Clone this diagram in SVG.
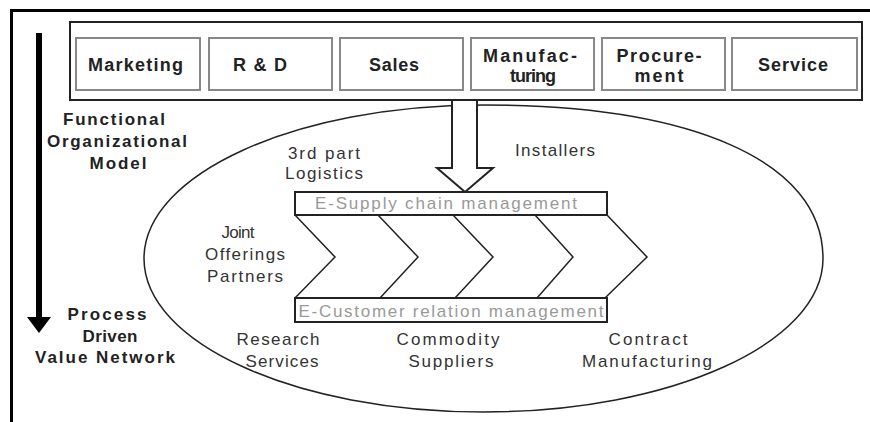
<svg xmlns="http://www.w3.org/2000/svg" width="870" height="422" viewBox="0 0 870 422">
<style>
text{font-family:"Liberation Sans",Arial,sans-serif;text-anchor:middle;fill:#222;}
.b{font-weight:bold;font-size:17px;}
.bx{font-weight:bold;font-size:18px;}
.r{font-size:17px;fill:#333;}
.g{font-size:17px;fill:#999;}
.fbox{fill:#fff;stroke:#888;stroke-width:2;}
.bar{fill:#fff;stroke:#222;stroke-width:2;}
.ln{fill:none;stroke:#222;stroke-width:1.5;}
</style>
<rect width="870" height="422" fill="#fff"/>
<g id="frame">
<line x1="10" y1="10.5" x2="870" y2="10.5" stroke="#000" stroke-width="3"/>
<line x1="11.5" y1="9" x2="11.5" y2="422" stroke="#000" stroke-width="3"/>
</g>
<g id="functional-org">
<rect x="70" y="22" width="792" height="78" fill="#fff" stroke="#222" stroke-width="2"/>
<g id="marketing"><rect class="fbox" x="76" y="38" width="124" height="52"/><text class="bx" x="135.5" y="71" textLength="95" lengthAdjust="spacing">Marketing</text></g>
<g id="rnd"><rect class="fbox" x="209" y="38" width="123" height="52"/><text class="bx" x="260" y="71" textLength="54" lengthAdjust="spacing">R &amp; D</text></g>
<g id="sales"><rect class="fbox" x="340" y="38" width="123" height="52"/><text class="bx" x="394" y="71" textLength="50" lengthAdjust="spacing">Sales</text></g>
<g id="manufacturing"><rect class="fbox" x="471" y="38" width="123" height="52"/><text class="bx" x="530" y="62" textLength="94" lengthAdjust="spacing">Manufac-</text><text class="bx" x="533" y="82" textLength="46" lengthAdjust="spacing">turing</text></g>
<g id="procurement"><rect class="fbox" x="602" y="38" width="123" height="52"/><text class="bx" x="659" y="62" textLength="85" lengthAdjust="spacing">Procure-</text><text class="bx" x="659" y="82" textLength="49" lengthAdjust="spacing">ment</text></g>
<g id="service"><rect class="fbox" x="732" y="38" width="125" height="52"/><text class="bx" x="793" y="71" textLength="70" lengthAdjust="spacing">Service</text></g>
</g>
<g id="value-network">
<path class="ln" d="M144,258.5 C144,173.7 296,105 483.5,105 C690,105 823,160 823,258.5 C823,343.3 671,412 483.5,412 C296,412 144,343.3 144,258.5 Z"/>
</g>
<g id="connectors">
<line x1="39" y1="33" x2="39" y2="320" stroke="#000" stroke-width="6"/>
<polygon points="27,317 51,317 39,333" fill="#000"/>
<polygon points="452,100 477,100 477,168 493,168 465,192 437,168 452,168" fill="#fff" stroke="#222" stroke-width="2" stroke-linejoin="miter"/>
</g>
<g id="process-chain">
<polyline class="ln" points="295,215 335,257 295,298"/>
<polyline class="ln" points="378,215 418,257 380,298"/>
<polyline class="ln" points="453,215 493,257 455,298"/>
<polyline class="ln" points="535,215 573,257 537,298"/>
<polyline class="ln" points="607,215 647,257 605,298"/>
</g>
<g id="e-supply"><rect class="bar" x="295" y="192" width="312" height="23"/><text class="g" x="446" y="209" textLength="262" lengthAdjust="spacing">E-Supply chain management</text></g>
<g id="e-customer"><rect class="bar" x="295" y="298" width="312" height="24"/><text class="g" x="451" y="317" textLength="305" lengthAdjust="spacing">E-Customer relation management</text></g>
<g id="label-functional">
<text class="b" x="114" y="125" textLength="102" lengthAdjust="spacing">Functional</text>
<text class="b" x="117" y="147" textLength="140" lengthAdjust="spacing">Organizational</text>
<text class="b" x="118" y="169" textLength="57" lengthAdjust="spacing">Model</text>
</g>
<g id="label-process">
<text class="b" x="107" y="320" textLength="79" lengthAdjust="spacing">Process</text>
<text class="b" x="110" y="342" textLength="55" lengthAdjust="spacing">Driven</text>
<text class="b" x="105" y="363" textLength="140" lengthAdjust="spacing">Value Network</text>
</g>
<g id="logistics"><text class="r" x="324" y="159" textLength="72" lengthAdjust="spacing">3rd part</text><text class="r" x="324" y="179" textLength="78" lengthAdjust="spacing">Logistics</text></g>
<g id="installers"><text class="r" x="555" y="156" textLength="80" lengthAdjust="spacing">Installers</text></g>
<g id="joint"><text class="r" x="238" y="238" textLength="33" lengthAdjust="spacing">Joint</text><text class="r" x="245" y="260" textLength="80" lengthAdjust="spacing">Offerings</text><text class="r" x="245" y="282" textLength="76" lengthAdjust="spacing">Partners</text></g>
<g id="research"><text class="r" x="278" y="345" textLength="83" lengthAdjust="spacing">Research</text><text class="r" x="282" y="367" textLength="73" lengthAdjust="spacing">Services</text></g>
<g id="commodity"><text class="r" x="448" y="345" textLength="103" lengthAdjust="spacing">Commodity</text><text class="r" x="451" y="367" textLength="85" lengthAdjust="spacing">Suppliers</text></g>
<g id="contract"><text class="r" x="648" y="345" textLength="79" lengthAdjust="spacing">Contract</text><text class="r" x="647" y="367" textLength="130" lengthAdjust="spacing">Manufacturing</text></g>
</svg>
